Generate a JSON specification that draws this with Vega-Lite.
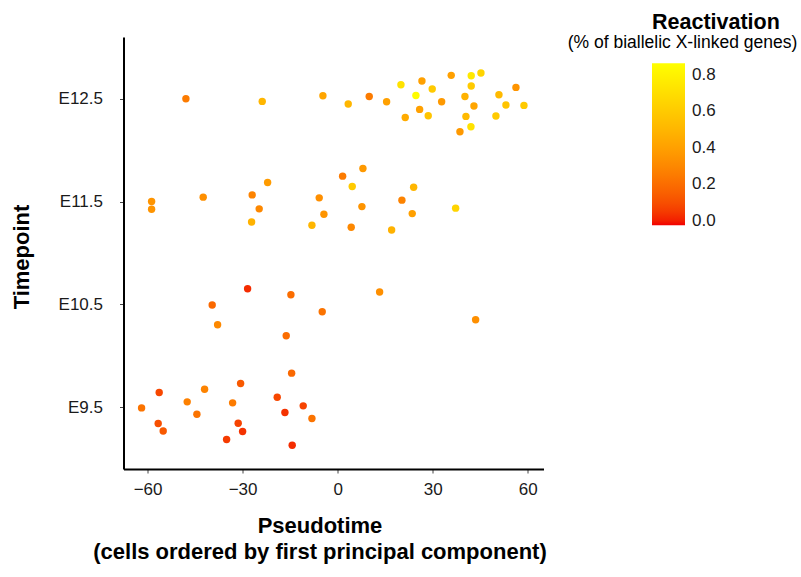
{
  "$schema": "https://vega.github.io/schema/vega-lite/v6.json",
  "width": 420,
  "height": 432,
  "autosize": "none",
  "padding": {"left": 123.5, "top": 37, "right": 257.5, "bottom": 108},
  "background": "white",
  "config": {"view": {"stroke": null}, "font": "Liberation Sans"},
  "title": {
    "text": "(% of biallelic X-linked genes)",
    "anchor": "middle",
    "frame": "group",
    "dx": 349,
    "offset": -40,
    "fontSize": 17.5,
    "fontWeight": "normal",
    "color": "black",
    "font": "Liberation Sans"
  },
  "data": {
    "values": [
      {"timepoint": "E12.5", "pseudotime": -47.9, "stage": 12.5, "reactivation": 0.25},
      {"timepoint": "E12.5", "pseudotime": -23.8, "stage": 12.474, "reactivation": 0.5},
      {"timepoint": "E12.5", "pseudotime": -4.64, "stage": 12.529, "reactivation": 0.42},
      {"timepoint": "E12.5", "pseudotime": 3.35, "stage": 12.448, "reactivation": 0.5},
      {"timepoint": "E12.5", "pseudotime": 9.98, "stage": 12.522, "reactivation": 0.25},
      {"timepoint": "E12.5", "pseudotime": 15.47, "stage": 12.471, "reactivation": 0.4},
      {"timepoint": "E12.5", "pseudotime": 19.99, "stage": 12.636, "reactivation": 0.72},
      {"timepoint": "E12.5", "pseudotime": 24.72, "stage": 12.532, "reactivation": 0.85},
      {"timepoint": "E12.5", "pseudotime": 26.62, "stage": 12.672, "reactivation": 0.4},
      {"timepoint": "E12.5", "pseudotime": 29.87, "stage": 12.594, "reactivation": 0.6},
      {"timepoint": "E12.5", "pseudotime": 21.35, "stage": 12.318, "reactivation": 0.45},
      {"timepoint": "E12.5", "pseudotime": 25.89, "stage": 12.396, "reactivation": 0.4},
      {"timepoint": "E12.5", "pseudotime": 28.61, "stage": 12.334, "reactivation": 0.57},
      {"timepoint": "E12.5", "pseudotime": 32.84, "stage": 12.471, "reactivation": 0.37},
      {"timepoint": "E12.5", "pseudotime": 35.87, "stage": 12.727, "reactivation": 0.4},
      {"timepoint": "E12.5", "pseudotime": 42.18, "stage": 12.724, "reactivation": 0.75},
      {"timepoint": "E12.5", "pseudotime": 45.25, "stage": 12.75, "reactivation": 0.65},
      {"timepoint": "E12.5", "pseudotime": 42.18, "stage": 12.624, "reactivation": 0.6},
      {"timepoint": "E12.5", "pseudotime": 40.2, "stage": 12.522, "reactivation": 0.48},
      {"timepoint": "E12.5", "pseudotime": 43.04, "stage": 12.429, "reactivation": 0.42},
      {"timepoint": "E12.5", "pseudotime": 40.51, "stage": 12.328, "reactivation": 0.52},
      {"timepoint": "E12.5", "pseudotime": 38.62, "stage": 12.179, "reactivation": 0.37},
      {"timepoint": "E12.5", "pseudotime": 42.09, "stage": 12.227, "reactivation": 0.72},
      {"timepoint": "E12.5", "pseudotime": 50.93, "stage": 12.539, "reactivation": 0.52},
      {"timepoint": "E12.5", "pseudotime": 56.3, "stage": 12.61, "reactivation": 0.35},
      {"timepoint": "E12.5", "pseudotime": 53.14, "stage": 12.439, "reactivation": 0.57},
      {"timepoint": "E12.5", "pseudotime": 58.83, "stage": 12.435, "reactivation": 0.6},
      {"timepoint": "E12.5", "pseudotime": 49.98, "stage": 12.332, "reactivation": 0.6},
      {"timepoint": "E11.5", "pseudotime": -58.73, "stage": 11.5, "reactivation": 0.35},
      {"timepoint": "E11.5", "pseudotime": -58.73, "stage": 11.426, "reactivation": 0.35},
      {"timepoint": "E11.5", "pseudotime": -42.44, "stage": 11.543, "reactivation": 0.33},
      {"timepoint": "E11.5", "pseudotime": -26.97, "stage": 11.565, "reactivation": 0.28},
      {"timepoint": "E11.5", "pseudotime": -22.1, "stage": 11.685, "reactivation": 0.38},
      {"timepoint": "E11.5", "pseudotime": -24.76, "stage": 11.429, "reactivation": 0.3},
      {"timepoint": "E11.5", "pseudotime": -27.16, "stage": 11.302, "reactivation": 0.48},
      {"timepoint": "E11.5", "pseudotime": -5.81, "stage": 11.536, "reactivation": 0.33},
      {"timepoint": "E11.5", "pseudotime": -4.33, "stage": 11.377, "reactivation": 0.35},
      {"timepoint": "E11.5", "pseudotime": -8.11, "stage": 11.27, "reactivation": 0.5},
      {"timepoint": "E11.5", "pseudotime": 1.58, "stage": 11.747, "reactivation": 0.25},
      {"timepoint": "E11.5", "pseudotime": 7.99, "stage": 11.821, "reactivation": 0.37},
      {"timepoint": "E11.5", "pseudotime": 4.61, "stage": 11.646, "reactivation": 0.6},
      {"timepoint": "E11.5", "pseudotime": 7.67, "stage": 11.451, "reactivation": 0.35},
      {"timepoint": "E11.5", "pseudotime": 4.29, "stage": 11.251, "reactivation": 0.3},
      {"timepoint": "E11.5", "pseudotime": 17.05, "stage": 11.224, "reactivation": 0.48},
      {"timepoint": "E11.5", "pseudotime": 20.3, "stage": 11.514, "reactivation": 0.28},
      {"timepoint": "E11.5", "pseudotime": 24.0, "stage": 11.64, "reactivation": 0.5},
      {"timepoint": "E11.5", "pseudotime": 23.56, "stage": 11.383, "reactivation": 0.4},
      {"timepoint": "E11.5", "pseudotime": 37.26, "stage": 11.436, "reactivation": 0.65},
      {"timepoint": "E10.5", "pseudotime": -28.42, "stage": 10.653, "reactivation": 0.02},
      {"timepoint": "E10.5", "pseudotime": -39.6, "stage": 10.494, "reactivation": 0.18},
      {"timepoint": "E10.5", "pseudotime": -37.89, "stage": 10.302, "reactivation": 0.3},
      {"timepoint": "E10.5", "pseudotime": -14.75, "stage": 10.594, "reactivation": 0.2},
      {"timepoint": "E10.5", "pseudotime": -4.86, "stage": 10.429, "reactivation": 0.22},
      {"timepoint": "E10.5", "pseudotime": -16.23, "stage": 10.195, "reactivation": 0.2},
      {"timepoint": "E10.5", "pseudotime": 13.26, "stage": 10.621, "reactivation": 0.33},
      {"timepoint": "E10.5", "pseudotime": 43.57, "stage": 10.351, "reactivation": 0.33},
      {"timepoint": "E9.5", "pseudotime": -61.89, "stage": 9.494, "reactivation": 0.22},
      {"timepoint": "E9.5", "pseudotime": -56.33, "stage": 9.644, "reactivation": 0.08},
      {"timepoint": "E9.5", "pseudotime": -56.65, "stage": 9.342, "reactivation": 0.1},
      {"timepoint": "E9.5", "pseudotime": -55.07, "stage": 9.27, "reactivation": 0.13},
      {"timepoint": "E9.5", "pseudotime": -47.49, "stage": 9.553, "reactivation": 0.27},
      {"timepoint": "E9.5", "pseudotime": -42.0, "stage": 9.676, "reactivation": 0.28},
      {"timepoint": "E9.5", "pseudotime": -44.43, "stage": 9.433, "reactivation": 0.22},
      {"timepoint": "E9.5", "pseudotime": -30.63, "stage": 9.732, "reactivation": 0.13},
      {"timepoint": "E9.5", "pseudotime": -33.15, "stage": 9.543, "reactivation": 0.25},
      {"timepoint": "E9.5", "pseudotime": -31.39, "stage": 9.345, "reactivation": 0.07},
      {"timepoint": "E9.5", "pseudotime": -30.0, "stage": 9.264, "reactivation": 0.03},
      {"timepoint": "E9.5", "pseudotime": -35.05, "stage": 9.186, "reactivation": 0.05},
      {"timepoint": "E9.5", "pseudotime": -14.52, "stage": 9.832, "reactivation": 0.18},
      {"timepoint": "E9.5", "pseudotime": -19.07, "stage": 9.598, "reactivation": 0.08},
      {"timepoint": "E9.5", "pseudotime": -16.64, "stage": 9.449, "reactivation": 0.03},
      {"timepoint": "E9.5", "pseudotime": -10.86, "stage": 9.514, "reactivation": 0.07},
      {"timepoint": "E9.5", "pseudotime": -8.11, "stage": 9.391, "reactivation": 0.22},
      {"timepoint": "E9.5", "pseudotime": -14.34, "stage": 9.131, "reactivation": 0.02}
    ]
  },
  "mark": {"type": "circle", "size": 55, "opacity": 1},
  "encoding": {
    "x": {
      "field": "pseudotime",
      "type": "quantitative",
      "scale": {"domain": [-67.6, 65], "nice": false, "zero": false},
      "axis": {
        "values": [-60, -30, 0, 30, 60],
        "title": ["Pseudotime", "(cells ordered by first principal component)"],
        "grid": false,
        "domainColor": "black",
        "domainWidth": 2,
        "tickColor": "#444444",
        "tickSize": 4,
        "labelFontSize": 17,
        "labelColor": "#1a1a1a",
        "labelPadding": 8,
        "labelFlush": false,
        "titleFontSize": 22,
        "titleFontWeight": "bold",
        "titleColor": "black",
        "titleX": 196,
        "titleY": 46.3,
        "titleBaseline": "top",
        "titleLineHeight": 26.5
      }
    },
    "y": {
      "field": "stage",
      "type": "quantitative",
      "scale": {"domain": [8.9, 13.1], "nice": false, "zero": false},
      "axis": {
        "values": [9.5, 10.5, 11.5, 12.5],
        "labelExpr": "'E' + datum.value",
        "title": "Timepoint",
        "grid": false,
        "domainColor": "black",
        "domainWidth": 2,
        "tickColor": "#444444",
        "tickSize": 4,
        "labelFontSize": 17,
        "labelColor": "#1a1a1a",
        "labelPadding": 17,
        "titleFontSize": 22,
        "titleFontWeight": "bold",
        "titleColor": "black",
        "titleX": -90.5,
        "titleY": 219.5
      }
    },
    "color": {
      "field": "reactivation",
      "type": "quantitative",
      "scale": {
        "domain": [-0.025, 0.42, 0.865],
        "range": ["#F20000", "#FFA500", "#FFFF00"],
        "interpolate": "lab"
      },
      "legend": {
        "title": "Reactivation",
        "titleFontSize": 21.5,
        "titleFontWeight": "bold",
        "titleColor": "black",
        "titleAnchor": "start",
        "titlePadding": 30,
        "orient": "none",
        "legendX": 528.5,
        "legendY": -25.3,
        "direction": "vertical",
        "gradientLength": 162,
        "gradientThickness": 33,
        "gradientStrokeWidth": 0,
        "values": [0, 0.2, 0.4, 0.6, 0.8],
        "format": ".1f",
        "labelFontSize": 17,
        "labelColor": "#1a1a1a",
        "labelOffset": 7,
        "labelOverlap": false,
        "padding": 0
      }
    }
  }
}
